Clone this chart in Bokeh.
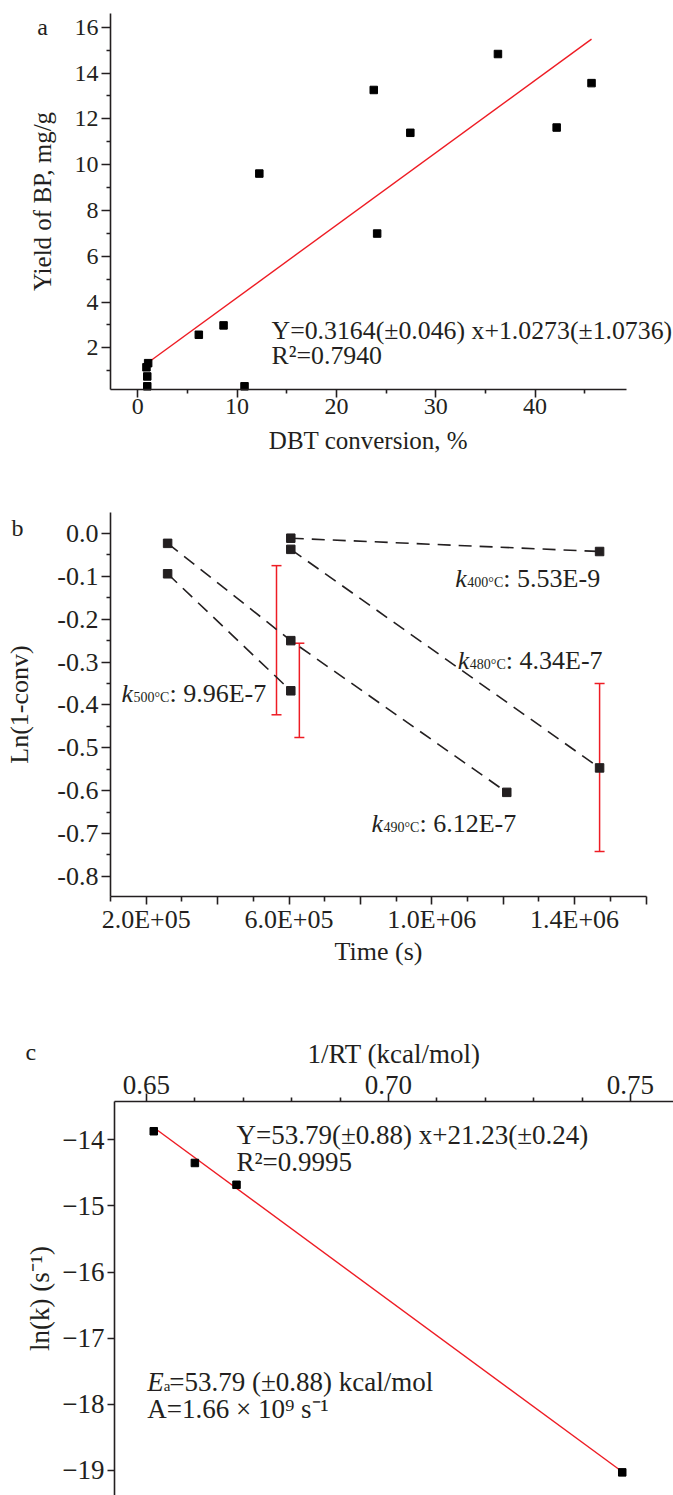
from bokeh.plotting import figure
from bokeh.layouts import column
from bokeh.models import Label, FixedTicker, Whisker, TeeHead, ColumnDataSource, Range1d
from bokeh.embed import file_html
from bokeh.resources import INLINE

FONT = "Liberation Serif"
INK = "#231f20"
RED = "#ee1c24"
W = 673

# ---------------- data: panel a ----------------
conv_pct = [0.88, 1.05, 0.96, 0.96, 10.75, 6.15, 8.64, 12.24, 23.76, 24.10, 27.44, 36.26, 42.17, 45.68]
yield_bp = [1.15, 1.33, 0.75, 0.32, 0.32, 2.57, 2.98, 9.61, 13.26, 6.99, 11.39, 14.83, 11.62, 13.56]
fit_a_slope = 0.3164
fit_a_intercept = 1.0273
xa_ticks = [0, 10, 20, 30, 40]
xa_minor = [5, 15, 25, 35, 45]
ya_ticks = [2, 4, 6, 8, 10, 12, 14, 16]
ya_minor = [1, 3, 5, 7, 9, 11, 13, 15]

# ---------------- data: panel b ----------------
time_400 = [6.05e5, 1.47e6]
ln_400 = [-0.011, -0.042]
time_480 = [6.05e5, 1.47e6]
ln_480 = [-0.037, -0.547]
time_490 = [2.60e5, 6.05e5, 1.21e6]
ln_490 = [-0.023, -0.250, -0.604]
time_500 = [2.60e5, 6.05e5]
ln_500 = [-0.094, -0.367]
err_time = [5.65e5, 6.29e5, 1.47e6]
err_center = [-0.249, -0.366, -0.546]
err_half = [0.174, 0.110, 0.196]
k_labels = ["400°C", "480°C", "500°C", "490°C"]
k_values = ["5.53E-9", "4.34E-7", "9.96E-7", "6.12E-7"]
xb_ticks = [200000, 400000, 600000, 800000, 1000000, 1200000, 1400000, 1600000]
xb_labels = ["2.0E+05", "", "6.0E+05", "", "1.0E+06", "", "1.4E+06", ""]
xb_minor = [100000, 300000, 500000, 700000, 900000, 1100000, 1300000, 1500000]
yb_ticks = [-0.8, -0.7, -0.6, -0.5, -0.4, -0.3, -0.2, -0.1, 0.0]
yb_labels = ["-0.8", "-0.7", "-0.6", "-0.5", "-0.4", "-0.3", "-0.2", "-0.1", "0.0"]
yb_minor = [-0.75, -0.65, -0.55, -0.45, -0.35, -0.25, -0.15, -0.05]

# ---------------- data: panel c ----------------
inv_rt = [0.6515, 0.6600, 0.6686, 0.7483]
ln_k = [-13.87, -14.35, -14.68, -19.03]
fit_c_slope = -53.79
fit_c_intercept = 21.23
xc_ticks = [0.65, 0.70, 0.75]
xc_labels = ["0.65", "0.70", "0.75"]
xc_minor = [0.66, 0.67, 0.68, 0.69, 0.71, 0.72, 0.73, 0.74]
yc_ticks = [-19, -18, -17, -16, -15, -14]
yc_labels = ["\u221219", "\u221218", "\u221217", "\u221216", "\u221215", "\u221214"]


def style_axis(ax, size, major_out=8, minor_out=4, label_standoff=3, title_standoff=8, title_size=None):
    ax.axis_line_color = INK
    ax.axis_line_width = 1.6
    ax.major_tick_line_color = INK
    ax.minor_tick_line_color = INK
    ax.major_tick_line_width = 1.6
    ax.minor_tick_line_width = 1.6
    ax.major_tick_in = 0
    ax.major_tick_out = major_out
    ax.minor_tick_in = 0
    ax.minor_tick_out = minor_out
    ax.major_label_text_font = FONT
    ax.major_label_text_font_size = f"{size}px"
    ax.major_label_text_color = INK
    ax.major_label_standoff = label_standoff
    ax.axis_label_text_font = FONT
    ax.axis_label_text_font_size = f"{title_size or size}px"
    ax.axis_label_text_font_style = "normal"
    ax.axis_label_text_color = INK
    ax.axis_label_standoff = title_standoff


def full_range(lo, hi, p_lo, p_hi, size):
    """Extend the data range [lo, hi] (drawn from pixel p_lo to p_hi) to the whole canvas 0..size."""
    per_px = (hi - lo) / (p_hi - p_lo)
    return (lo - p_lo * per_px, hi + (size - p_hi) * per_px)


def make_fig(h, xr, xpix, yr, ypix, **kw):
    # the plotting frame covers the whole canvas; axes sit at fixed data locations
    fx = full_range(xr[0], xr[1], xpix[0], xpix[1], W)
    fy = full_range(yr[0], yr[1], h - ypix[0], h - ypix[1], h)
    p = figure(width=W, height=h, x_range=Range1d(*fx), y_range=Range1d(*fy),
               output_backend="svg", toolbar_location=None,
               min_border_left=0, min_border_right=0,
               min_border_top=0, min_border_bottom=0, **kw)
    p.outline_line_color = None
    p.xgrid.visible = False
    p.ygrid.visible = False
    p.background_fill_color = "white"
    p.border_fill_color = "white"
    p.xaxis.fixed_location = yr[0] if kw.get("x_axis_location", "below") == "below" else yr[1]
    p.xaxis.bounds = xr
    p.yaxis.fixed_location = xr[0]
    p.yaxis.bounds = yr
    return p


def txt(p, x, y, s, size, style="normal", xo=0, yo=0):
    p.add_layout(Label(x=x, y=y, text=s, x_offset=xo, y_offset=yo,
                       text_font=FONT, text_font_size=f"{size}px",
                       text_font_style=style, text_color=INK,
                       text_baseline="alphabetic", text_align="left"))


# ================= panel a =================
pa = make_fig(480, (-2.74, 49.2), (110, 626), (0.18, 16.6), (389, 13))
pa.xaxis.ticker = FixedTicker(ticks=xa_ticks, minor_ticks=xa_minor)
pa.yaxis.ticker = FixedTicker(ticks=ya_ticks, minor_ticks=ya_minor)
pa.xaxis.axis_label = "DBT conversion, %"
pa.yaxis.axis_label = "Yield of BP, mg/g"
style_axis(pa.xaxis[0], 24, 8, 4, 1, 10, title_size=25)
style_axis(pa.yaxis[0], 24, 9, 4, 3, 16, title_size=25)

xa0, xa1 = min(conv_pct), max(conv_pct)
pa.line([xa0, xa1], [fit_a_slope * xa0 + fit_a_intercept, fit_a_slope * xa1 + fit_a_intercept],
        line_color=RED, line_width=1.4)
pa.scatter(conv_pct, yield_bp, marker="square", size=7.5, fill_color="black", line_color="black")

txt(pa, -10.12, 15.99, "a", 24)
txt(pa, 13.47, 2.756, "Y=0.3164(\u00b10.046) x+1.0273(\u00b11.0736)", 25.8)
txt(pa, 13.47, 1.643, "R\u00b2=0.7940", 25.8)

# ================= panel b =================
pb = make_fig(520, (1.0e5, 1.6e6), (110, 645.5), (-0.847, 0.049), (416, 32))
pb.xaxis.ticker = FixedTicker(ticks=xb_ticks, minor_ticks=xb_minor)
pb.xaxis.major_label_overrides = dict(zip(xb_ticks, xb_labels))
pb.yaxis.ticker = FixedTicker(ticks=yb_ticks, minor_ticks=yb_minor)
pb.yaxis.major_label_overrides = dict(zip(yb_ticks, yb_labels))
pb.xaxis.axis_label = "Time (s)"
pb.yaxis.axis_label = "Ln(1-conv)"
style_axis(pb.xaxis[0], 26, 8, 5, 0, 0)
style_axis(pb.yaxis[0], 26, 9, 4, 3, 20)

err_src = ColumnDataSource(dict(
    x=err_time,
    upper=[c + h for c, h in zip(err_center, err_half)],
    lower=[c - h for c, h in zip(err_center, err_half)]))
pb.add_layout(Whisker(source=err_src, base="x", upper="upper", lower="lower",
                      dimension="height", line_color=RED, line_width=1.5,
                      upper_head=TeeHead(size=10, line_color=RED, line_width=1.5),
                      lower_head=TeeHead(size=10, line_color=RED, line_width=1.5)))

for tx, ty in [(time_400, ln_400), (time_480, ln_480), (time_490, ln_490), (time_500, ln_500)]:
    pb.line(tx, ty, line_color=INK, line_width=1.6, line_dash="13 8")
    pb.scatter(tx, ty, marker="square", size=8.5, fill_color=INK, line_color=INK)

k_pos = [(10.66e5, -0.1057), (10.73e5, -0.2963), (1.308e5, -0.374), (8.311e5, -0.6773)]
for (kx, ky), lab, val in zip(k_pos, k_labels, k_values):
    txt(pb, kx, ky, "k", 26, style="italic")
    txt(pb, kx, ky, lab, 14, xo=12, yo=-4)
    txt(pb, kx, ky, ": " + val, 26, xo=48)

txt(pb, -1.773e5, 0.0117, "b", 24)

# ================= panel c =================
pc = make_fig(495, (0.64339, 0.75889), (114, 673), (-19.38, -13.42), (495, 101),
              x_axis_location="above")
pc.xaxis.ticker = FixedTicker(ticks=xc_ticks, minor_ticks=xc_minor)
pc.xaxis.major_label_overrides = dict(zip(xc_ticks, xc_labels))
pc.yaxis.ticker = FixedTicker(ticks=yc_ticks)
pc.yaxis.major_label_overrides = dict(zip(yc_ticks, yc_labels))
pc.xaxis.axis_label = "1/RT (kcal/mol)"
pc.yaxis.axis_label = "ln(k) (s\u207b\u00b9)"
style_axis(pc.xaxis[0], 27, 8, 4, 0, 4)
style_axis(pc.yaxis[0], 27, 7, 4, 3, 4)

xc0, xc1 = min(inv_rt), max(inv_rt)
pc.line([xc0, xc1], [fit_c_slope * xc0 + fit_c_intercept, fit_c_slope * xc1 + fit_c_intercept],
        line_color=RED, line_width=1.4)
pc.scatter(inv_rt, ln_k, marker="square", size=7.5, fill_color="black", line_color="black")

txt(pc, 0.6250, -12.674, "c", 24)
txt(pc, 0.6686, -13.934, "Y=53.79(\u00b10.88) x+21.23(\u00b10.24)", 27)
txt(pc, 0.6686, -14.338, "R\u00b2=0.9995", 27)
txt(pc, 0.65015, -17.667, "E", 27, style="italic")
txt(pc, 0.65015, -17.667, "a", 15, xo=16.5, yo=-4)
txt(pc, 0.65015, -17.667, "=53.79 (\u00b10.88) kcal/mol", 27, xo=22)
txt(pc, 0.65015, -18.069, "A=1.66 \u00d7 10\u2079 s\u207b\u00b9", 27)

layout = column(pa, pb, pc, spacing=0)
open("out.html", "w").write(file_html(layout, INLINE))
